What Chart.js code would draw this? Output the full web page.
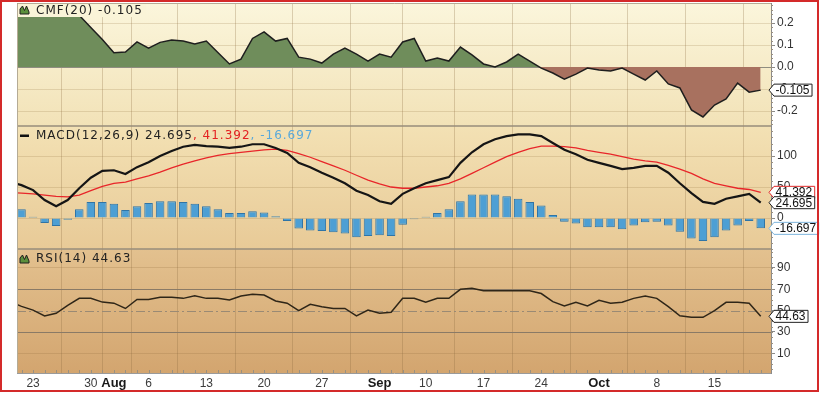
<!DOCTYPE html>
<html>
<head>
<meta charset="utf-8">
<title>CMF / MACD / RSI</title>
<script src="https://cdn.jsdelivr.net/npm/chart.js@4.4.1/dist/chart.umd.min.js"></script>
<style>
  html, body { margin: 0; padding: 0; background: #fff; }
  canvas { display: block; }
</style>
</head>
<body>
<canvas id="ind-chart" width="820" height="393"></canvas>
<script>
// trading days shown (Jul 19 sits just off the left edge)
const dates = [
  "2012-07-19", "2012-07-20",
  "2012-07-23", "2012-07-24", "2012-07-25", "2012-07-26", "2012-07-27",
  "2012-07-30", "2012-07-31", "2012-08-01", "2012-08-02", "2012-08-03",
  "2012-08-06", "2012-08-07", "2012-08-08", "2012-08-09", "2012-08-10",
  "2012-08-13", "2012-08-14", "2012-08-15", "2012-08-16", "2012-08-17",
  "2012-08-20", "2012-08-21", "2012-08-22", "2012-08-23", "2012-08-24",
  "2012-08-27", "2012-08-28", "2012-08-29", "2012-08-30", "2012-08-31",
  "2012-09-04", "2012-09-05", "2012-09-06", "2012-09-07",
  "2012-09-10", "2012-09-11", "2012-09-12", "2012-09-13", "2012-09-14",
  "2012-09-17", "2012-09-18", "2012-09-19", "2012-09-20", "2012-09-21",
  "2012-09-24", "2012-09-25", "2012-09-26", "2012-09-27", "2012-09-28",
  "2012-10-01", "2012-10-02", "2012-10-03", "2012-10-04", "2012-10-05",
  "2012-10-08", "2012-10-09", "2012-10-10", "2012-10-11", "2012-10-12",
  "2012-10-15", "2012-10-16", "2012-10-17", "2012-10-18", "2012-10-19"
];

const cmf = [
  0.30, 0.30, 0.31, 0.30, 0.29, 0.27, 0.235, 0.18, 0.125, 0.065,
  0.068, 0.114, 0.086, 0.112, 0.123, 0.118, 0.105, 0.118, 0.066, 0.014,
  0.036, 0.13, 0.16, 0.118, 0.13, 0.045, 0.036, 0.018, 0.059, 0.086,
  0.059, 0.027, 0.059, 0.045, 0.114, 0.13, 0.027, 0.041, 0.027, 0.091,
  0.055, 0.014, 0.0, 0.023, 0.059, 0.027, -0.005, -0.027, -0.055, -0.032,
  -0.005, -0.014, -0.018, -0.005, -0.032, -0.059, -0.018, -0.077, -0.095, -0.195,
  -0.227, -0.173, -0.145, -0.073, -0.114, -0.105
];

const macd = [
  58, 53, 45, 29, 19, 29, 48, 65, 76, 77,
  71, 82, 90, 100, 108, 115, 118, 116, 115, 113,
  115, 119, 119, 113, 105, 89, 82, 73, 65, 56,
  44, 37, 27, 23, 39, 48, 56, 61, 66, 89,
  106, 119, 127, 132, 135, 135, 132, 121, 110, 103,
  94, 89, 84, 79, 81, 84, 84, 73, 56, 40,
  26, 23, 31, 35, 39, 24.695
];

const signal = [
  41, 40, 39, 37, 35, 34, 37, 44, 51, 56,
  58, 63, 68, 74, 81, 87, 92, 97, 101, 104,
  106, 108, 110, 111, 109, 104, 98, 91, 84, 77,
  69, 61, 55, 50, 48, 48, 50, 52, 56, 63,
  72, 81, 90, 99, 106, 112, 116, 116, 115, 113,
  109, 106, 103, 99, 95, 92, 90, 85, 79, 72,
  63, 56, 52, 48, 46, 41.392
];

const hist = [
  18, 14, 2, -8, -13, -3, 14, 26, 26, 23,
  13, 19, 24, 27, 27, 26, 23, 19, 14, 8,
  8, 11, 9, 3, -5, -17, -20, -21, -23, -25,
  -31, -29, -28, -29, -11, -2, 2, 8, 14, 27,
  38, 38, 38, 35, 31, 26, 20, 5, -6, -9,
  -15, -15, -15, -18, -12, -7, -6, -12, -22, -33,
  -37, -31, -20, -12, -5, -16.697
];

const rsi = [
  58.5, 54, 50.5, 45, 47.5, 55, 61.5, 61.5, 58, 57,
  52, 60.5, 60.5, 62.5, 62.5, 61.5, 64, 61.5, 61.5, 60,
  63.7, 65.3, 64.6, 59, 57, 50, 56, 53.7, 52, 52,
  45, 50.5, 47.5, 48.4, 61.5, 61.5, 57.8, 61.5, 61.5, 70,
  71, 68.7, 68.7, 68.7, 68.7, 68.7, 66, 58.4, 54.3, 57.8,
  54.3, 59.6, 57, 57.8, 61.5, 63.7, 61.5, 53.7, 45.2, 43.7,
  43.7, 50, 57.8, 57.8, 57, 44.63
];

const tickDates = ["2012-07-23", "2012-07-30", "2012-08-01", "2012-08-06", "2012-08-13",
  "2012-08-20", "2012-08-27", "2012-09-04", "2012-09-10", "2012-09-17", "2012-09-24",
  "2012-10-01", "2012-10-08", "2012-10-15"];
const tickLabels = ["23", "30", "Aug", "6", "13", "20", "27", "Sep", "10", "17", "24", "Oct", "8", "15"];
const monthLabels = ["Aug", "Sep", "Oct"];

const cmfTicks = [-0.2, -0.1, 0, 0.1, 0.2];
const macdTicks = [0, 50, 100];
const rsiTicks = [10, 30, 50, 70, 90];

const AXIS_FONT = '"Liberation Sans", Arial, sans-serif';
const TITLE_FONT = '12px "DejaVu Sans", Verdana, sans-serif';

const panelColors = {
  yCmf: ["#fbf6dc", "#f2e2b7"],
  yMacd: ["#f3e1b4", "#e8ca97"],
  yRsi: ["#e3c18f", "#d3a56f"]
};

const last = (arr) => arr[arr.length - 1];
const toPoints = (arr) => arr.map((v, i) => ({ x: i, y: v }));
const labelAt = (v) => tickLabels[tickDates.indexOf(dates[v])] || "";
const isMonthTick = (c) => !!(c && c.tick) && monthLabels.includes(labelAt(c.tick.value));
const tickIs = (c, vals) => !!(c && c.tick) && vals.includes(c.tick.value);

function fitY(scale) {
  scale.width = 49;
  scale.paddingTop = 0;
  scale.paddingBottom = 0;
}

function drawTitle(ctx, x, y, parts) {
  ctx.font = TITLE_FONT;
  ctx.textBaseline = "middle";
  ctx.textAlign = "left";
  if ("letterSpacing" in ctx) ctx.letterSpacing = "1px";
  for (const [text, color] of parts) {
    ctx.fillStyle = color;
    ctx.fillText(text, x, y);
    x += ctx.measureText(text).width;
  }
  if ("letterSpacing" in ctx) ctx.letterSpacing = "0px";
}

function drawMountain(ctx, x, y) {
  ctx.beginPath();
  ctx.moveTo(x, y);
  ctx.lineTo(x, y - 5);
  ctx.lineTo(x + 2.5, y - 8);
  ctx.lineTo(x + 4.5, y - 3.5);
  ctx.lineTo(x + 6.5, y - 8);
  ctx.lineTo(x + 9, y - 2);
  ctx.lineTo(x + 9, y);
  ctx.closePath();
  ctx.fillStyle = "#5b8f3c";
  ctx.fill();
  ctx.strokeStyle = "#1f1f1f";
  ctx.lineWidth = 1;
  ctx.stroke();
}

function drawTag(ctx, right, y, text, stroke) {
  ctx.font = "12px " + AXIS_FONT;
  const w = ctx.measureText(text).width;
  const x0 = right - 2, x1 = right + 3, x2 = x1 + w + 4;
  ctx.beginPath();
  ctx.moveTo(x0, y);
  ctx.lineTo(x1, y - 6);
  ctx.lineTo(x2, y - 6);
  ctx.lineTo(x2, y + 6);
  ctx.lineTo(x1, y + 6);
  ctx.closePath();
  ctx.fillStyle = "#fff";
  ctx.fill();
  ctx.strokeStyle = stroke;
  ctx.lineWidth = 1;
  ctx.stroke();
  ctx.fillStyle = "#111";
  ctx.textAlign = "left";
  ctx.textBaseline = "middle";
  ctx.fillText(text, x1 + 1.5, y + 0.5);
}

const panelPlugin = {
  id: "panels",
  beforeDraw(chart) {
    const { ctx, chartArea: a } = chart;
    ctx.save();
    ctx.fillStyle = "#fff";
    ctx.fillRect(0, 0, chart.width, chart.height);
    for (const id of ["yCmf", "yMacd", "yRsi"]) {
      const s = chart.scales[id];
      const g = ctx.createLinearGradient(0, s.top, 0, s.bottom);
      g.addColorStop(0, panelColors[id][0]);
      g.addColorStop(1, panelColors[id][1]);
      ctx.fillStyle = g;
      ctx.fillRect(a.left, s.top, a.right - a.left, s.bottom - s.top);
    }
    ctx.restore();
  },
  beforeDatasetsDraw(chart) {
    const { ctx, chartArea: a } = chart;
    const y = chart.scales.yRsi;
    ctx.save();
    ctx.strokeStyle = "#8a7a66";
    ctx.lineWidth = 1;
    for (const v of [70, 30]) {
      const py = Math.round(y.getPixelForValue(v)) + 0.5;
      ctx.beginPath(); ctx.moveTo(a.left, py); ctx.lineTo(a.right, py); ctx.stroke();
    }
    ctx.strokeStyle = "#9a8a74";
    ctx.setLineDash([9, 3, 2, 3]);
    const p50 = Math.round(y.getPixelForValue(50)) + 0.5;
    ctx.beginPath(); ctx.moveTo(a.left, p50); ctx.lineTo(a.right, p50); ctx.stroke();
    ctx.restore();
  },
  afterDatasetsDraw(chart) {
    const { ctx, chartArea: a } = chart;
    const sx = chart.scales.x;
    const sc = chart.scales.yCmf, sm = chart.scales.yMacd, sr = chart.scales.yRsi;
    ctx.save();

    // panel separators and left / top edge
    ctx.strokeStyle = "#978c7b";
    ctx.lineWidth = 1.5;
    for (const yy of [sc.bottom, sm.bottom]) {
      ctx.beginPath(); ctx.moveTo(a.left, yy); ctx.lineTo(a.right, yy); ctx.stroke();
    }
    ctx.lineWidth = 1;
    ctx.strokeStyle = "#b5ab95";
    ctx.beginPath();
    ctx.moveTo(a.left + 0.5, a.bottom); ctx.lineTo(a.left + 0.5, a.top + 0.5); ctx.lineTo(a.right, a.top + 0.5);
    ctx.stroke();

    // minor ticks, day marks along the bottom
    ctx.strokeStyle = "#9a9080";
    for (let i = 0; i < dates.length; i++) {
      const px = Math.round(sx.getPixelForValue(i)) + 0.5;
      if (px < a.left || px > a.right) continue;
      ctx.beginPath(); ctx.moveTo(px, a.bottom - 3); ctx.lineTo(px, a.bottom); ctx.stroke();
    }
    const minor = [[sc, 0.02], [sm, 10], [sr, 5]];
    for (const [s, step] of minor) {
      for (let v = Math.ceil(s.min / step) * step; v <= s.max; v += step) {
        const py = Math.round(s.getPixelForValue(v)) + 0.5;
        ctx.beginPath(); ctx.moveTo(a.right, py); ctx.lineTo(a.right + 2, py); ctx.stroke();
      }
    }

    // CMF title box
    ctx.fillStyle = "#faf4d8";
    ctx.fillRect(a.left + 1, a.top + 1, 128, 13);
    drawMountain(ctx, 20, 14);
    drawTitle(ctx, 36, 10.5, [["CMF(20) " + last(cmf).toFixed(3), "#222"]]);

    // MACD title
    ctx.fillStyle = "#111";
    ctx.fillRect(20, sm.top + 8.5, 9, 2.5);
    drawTitle(ctx, 36, sm.top + 9.5, [
      ["MACD(12,26,9) " + last(macd).toFixed(3), "#222"],
      [", " + last(signal).toFixed(3), "#e42222"],
      [", " + last(hist).toFixed(3), "#5aa9da"]
    ]);

    // RSI title
    drawMountain(ctx, 20, sr.top + 14);
    drawTitle(ctx, 36, sr.top + 10, [["RSI(14) " + last(rsi).toFixed(2), "#222"]]);

    // last-value tags
    drawTag(ctx, a.right, sc.getPixelForValue(last(cmf)), last(cmf).toFixed(3), "#222");
    drawTag(ctx, a.right, sm.getPixelForValue(last(signal)), last(signal).toFixed(3), "#e02a2a");
    drawTag(ctx, a.right, sm.getPixelForValue(last(macd)), last(macd).toFixed(3), "#222");
    drawTag(ctx, a.right, sm.getPixelForValue(last(hist)), last(hist).toFixed(3), "#7db4dc");
    drawTag(ctx, a.right, sr.getPixelForValue(last(rsi)), last(rsi).toFixed(2), "#222");
    ctx.restore();
  },
  afterDraw(chart) {
    const ctx = chart.ctx;
    ctx.save();
    ctx.strokeStyle = "#d42a2a";
    ctx.lineWidth = 2;
    ctx.strokeRect(1, 1, 817, 390);
    ctx.restore();
  }
};

const yTickFont = { family: AXIS_FONT, size: 12 };
const lightGrid = "rgba(150,118,70,0.22)";

new Chart(document.getElementById("ind-chart"), {
  type: "line",
  data: {
    datasets: [
      {
        label: "CMF(20)",
        data: toPoints(cmf),
        yAxisID: "yCmf",
        borderColor: "#1e1e1e",
        borderWidth: 1.5,
        pointRadius: 0,
        fill: { target: { value: 0 }, above: "#6f8d5b", below: "#a8715f" }
      },
      {
        label: "RSI(14)",
        data: toPoints(rsi),
        yAxisID: "yRsi",
        borderColor: "#2f2618",
        borderWidth: 1.5,
        pointRadius: 0
      },
      {
        label: "MACD",
        data: toPoints(macd),
        yAxisID: "yMacd",
        borderColor: "#151515",
        borderWidth: 2.2,
        pointRadius: 0
      },
      {
        label: "Signal",
        data: toPoints(signal),
        yAxisID: "yMacd",
        borderColor: "#e8262a",
        borderWidth: 1.3,
        pointRadius: 0
      },
      {
        type: "bar",
        label: "Histogram",
        data: toPoints(hist),
        yAxisID: "yMacd",
        backgroundColor: "#4d9fd4",
        borderColor: "#2f74a6",
        borderWidth: 1,
        categoryPercentage: 1,
        barPercentage: 0.74
      }
    ]
  },
  options: {
    responsive: false,
    animation: false,
    devicePixelRatio: 1,
    layout: { padding: { left: 17, top: 3, right: 0, bottom: 0 } },
    plugins: { legend: { display: false }, tooltip: { enabled: false } },
    events: [],
    scales: {
      x: {
        type: "linear",
        min: 0.61,
        max: 65.89,
        offset: false,
        afterBuildTicks: (s) => { s.ticks = tickDates.map((d) => ({ value: dates.indexOf(d) })); },
        afterFit: (s) => { s.height = 20; s.paddingLeft = 0; s.paddingRight = 0; },
        ticks: {
          autoSkip: false,
          maxRotation: 0,
          padding: 3,
          callback: (v) => labelAt(v),
          color: (c) => isMonthTick(c) ? "#1a1a1a" : "#3c3c3c",
          font: (c) => isMonthTick(c)
            ? { family: AXIS_FONT, size: 13, weight: "bold" }
            : { family: AXIS_FONT, size: 12 }
        },
        grid: { color: "rgba(135,105,60,0.28)", drawTicks: false },
        border: { color: "#9a9a9a" }
      },
      yCmf: {
        type: "linear",
        position: "right",
        stack: "panels",
        stackWeight: 123,
        weight: 1,
        min: -0.268,
        max: 0.291,
        afterBuildTicks: (s) => { s.ticks = cmfTicks.map((v) => ({ value: v })); },
        afterFit: fitY,
        ticks: { autoSkip: false, padding: 2, color: "#333", font: yTickFont, callback: (v) => v.toFixed(1) },
        grid: { color: (c) => tickIs(c, [0]) ? "#8f8d80" : lightGrid, tickLength: 4, tickColor: "#8a8a8a" },
        border: { color: "#8a8a8a" }
      },
      yMacd: {
        type: "linear",
        position: "right",
        stack: "panels",
        stackWeight: 123,
        weight: 2,
        min: -50,
        max: 148.4,
        afterBuildTicks: (s) => { s.ticks = macdTicks.map((v) => ({ value: v })); },
        afterFit: fitY,
        ticks: { autoSkip: false, padding: 2, color: "#333", font: yTickFont, callback: (v) => String(v) },
        grid: { color: lightGrid, tickLength: 4, tickColor: "#8a8a8a" },
        border: { color: "#8a8a8a" }
      },
      yRsi: {
        type: "linear",
        position: "right",
        stack: "panels",
        stackWeight: 124,
        weight: 3,
        min: -8.5,
        max: 107.8,
        afterBuildTicks: (s) => { s.ticks = rsiTicks.map((v) => ({ value: v })); },
        afterFit: fitY,
        ticks: { autoSkip: false, padding: 2, color: "#333", font: yTickFont, callback: (v) => String(v) },
        grid: { color: (c) => tickIs(c, [90, 10]) ? "rgba(140,105,60,0.22)" : "rgba(0,0,0,0)", tickLength: 4, tickColor: "#8a8a8a" },
        border: { color: "#8a8a8a" }
      }
    }
  },
  plugins: [panelPlugin]
});
</script>
</body>
</html>
